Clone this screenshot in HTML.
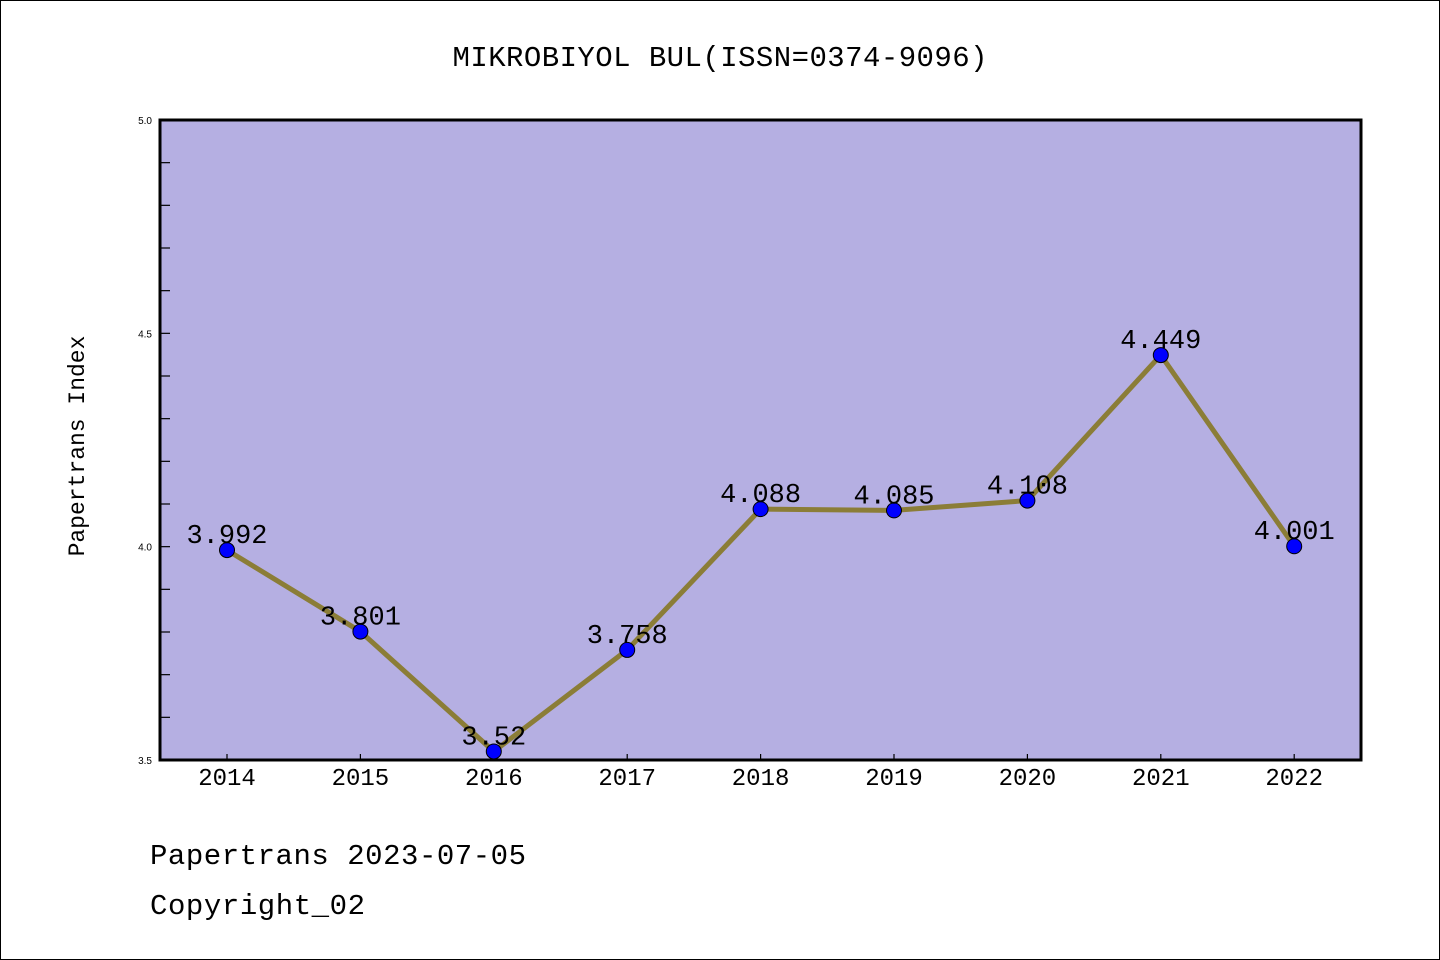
<!DOCTYPE html>
<html><head><meta charset="utf-8"><style>
html,body{margin:0;padding:0;background:#fff}
svg{display:block}
text{font-family:"Liberation Mono","WenQuanYi Zen Hei",monospace}
</style></head><body>
<svg id="chart" width="1440" height="960">
<rect x="0.5" y="0.5" width="1439" height="959" fill="#fff" stroke="#000"/>
<text x="720" y="66" text-anchor="middle" font-size="29" textLength="535">MIKROBIYOL BUL(ISSN=0374-9096)</text>
<rect x="160" y="120" width="1201" height="640" fill="#b5afe2"/>
<g id="axes"></g>
<g id="series"></g>
<rect x="160" y="120" width="1201" height="640" fill="none" stroke="#000" stroke-width="3"/>
<text transform="translate(84,446) rotate(-90)" text-anchor="middle" font-size="23">Papertrans Index</text>
<text x="150" y="864" font-size="29" textLength="376">Papertrans 2023-07-05</text>
<text x="150" y="914" font-size="29" textLength="215">Copyright_02</text>
</svg>
<script>
const years = ["2014","2015","2016","2017","2018","2019","2020","2021","2022"];
const values = [3.992,3.801,3.52,3.758,4.088,4.085,4.108,4.449,4.001];
const valueLabels = ["3.992","3.801","3.52","3.758","4.088","4.085","4.108","4.449","4.001"];
const yTicks = [3.5,4.0,4.5,5.0];
const yTickLabels = ["3.5","4.0","4.5","5.0"];
(function(){
const NS="http://www.w3.org/2000/svg";
const x0=227, dx=133.4, yMin=3.5, yMax=5.0, pTop=120, pBot=760;
const xs=i=>x0+i*dx;
const ys=v=>pBot-(v-yMin)/(yMax-yMin)*(pBot-pTop);
function mk(tag,attrs,parent){const e=document.createElementNS(NS,tag);for(const k in attrs)e.setAttribute(k,attrs[k]);parent.appendChild(e);return e;}
const axes=document.getElementById('axes'), ser=document.getElementById('series');
for(let k=1;k<15;k++){
  const v=yMin+k*0.1;
  const t=mk('line',{x1:160,x2:170,y1:ys(v),y2:ys(v),stroke:'#000','stroke-width':1.2},axes);
  
  
}
yTicks.forEach((v,i)=>{
  const t=mk('text',{x:152,y:ys(v)+4,'text-anchor':'end','font-size':10,style:'font-family:"Liberation Sans",sans-serif'},axes);
  t.textContent=yTickLabels[i];
  
  
});
years.forEach((y,i)=>{
  const t=mk('line',{x1:xs(i),x2:xs(i),y1:pBot,y2:pBot-6,stroke:'#000','stroke-width':1.2},axes);
  
  
  const l=mk('text',{x:xs(i),y:785,'text-anchor':'middle','font-size':24},axes);
  l.textContent=y;
  
  
});
const line=mk('polyline',{points:values.map((v,i)=>xs(i)+','+ys(v)).join(' '),fill:'none',stroke:'#8b7d37','stroke-width':5},ser);


values.forEach((v,i)=>{
  const c=mk('circle',{cx:xs(i),cy:ys(v),r:7.5,fill:'#0000ff',stroke:'#000','stroke-width':1},ser);
  
  
  const t=mk('text',{x:xs(i),y:ys(v)-7,'text-anchor':'middle','font-size':27},ser);
  t.textContent=valueLabels[i];
  
  
});
})();
</script>
</body></html>
